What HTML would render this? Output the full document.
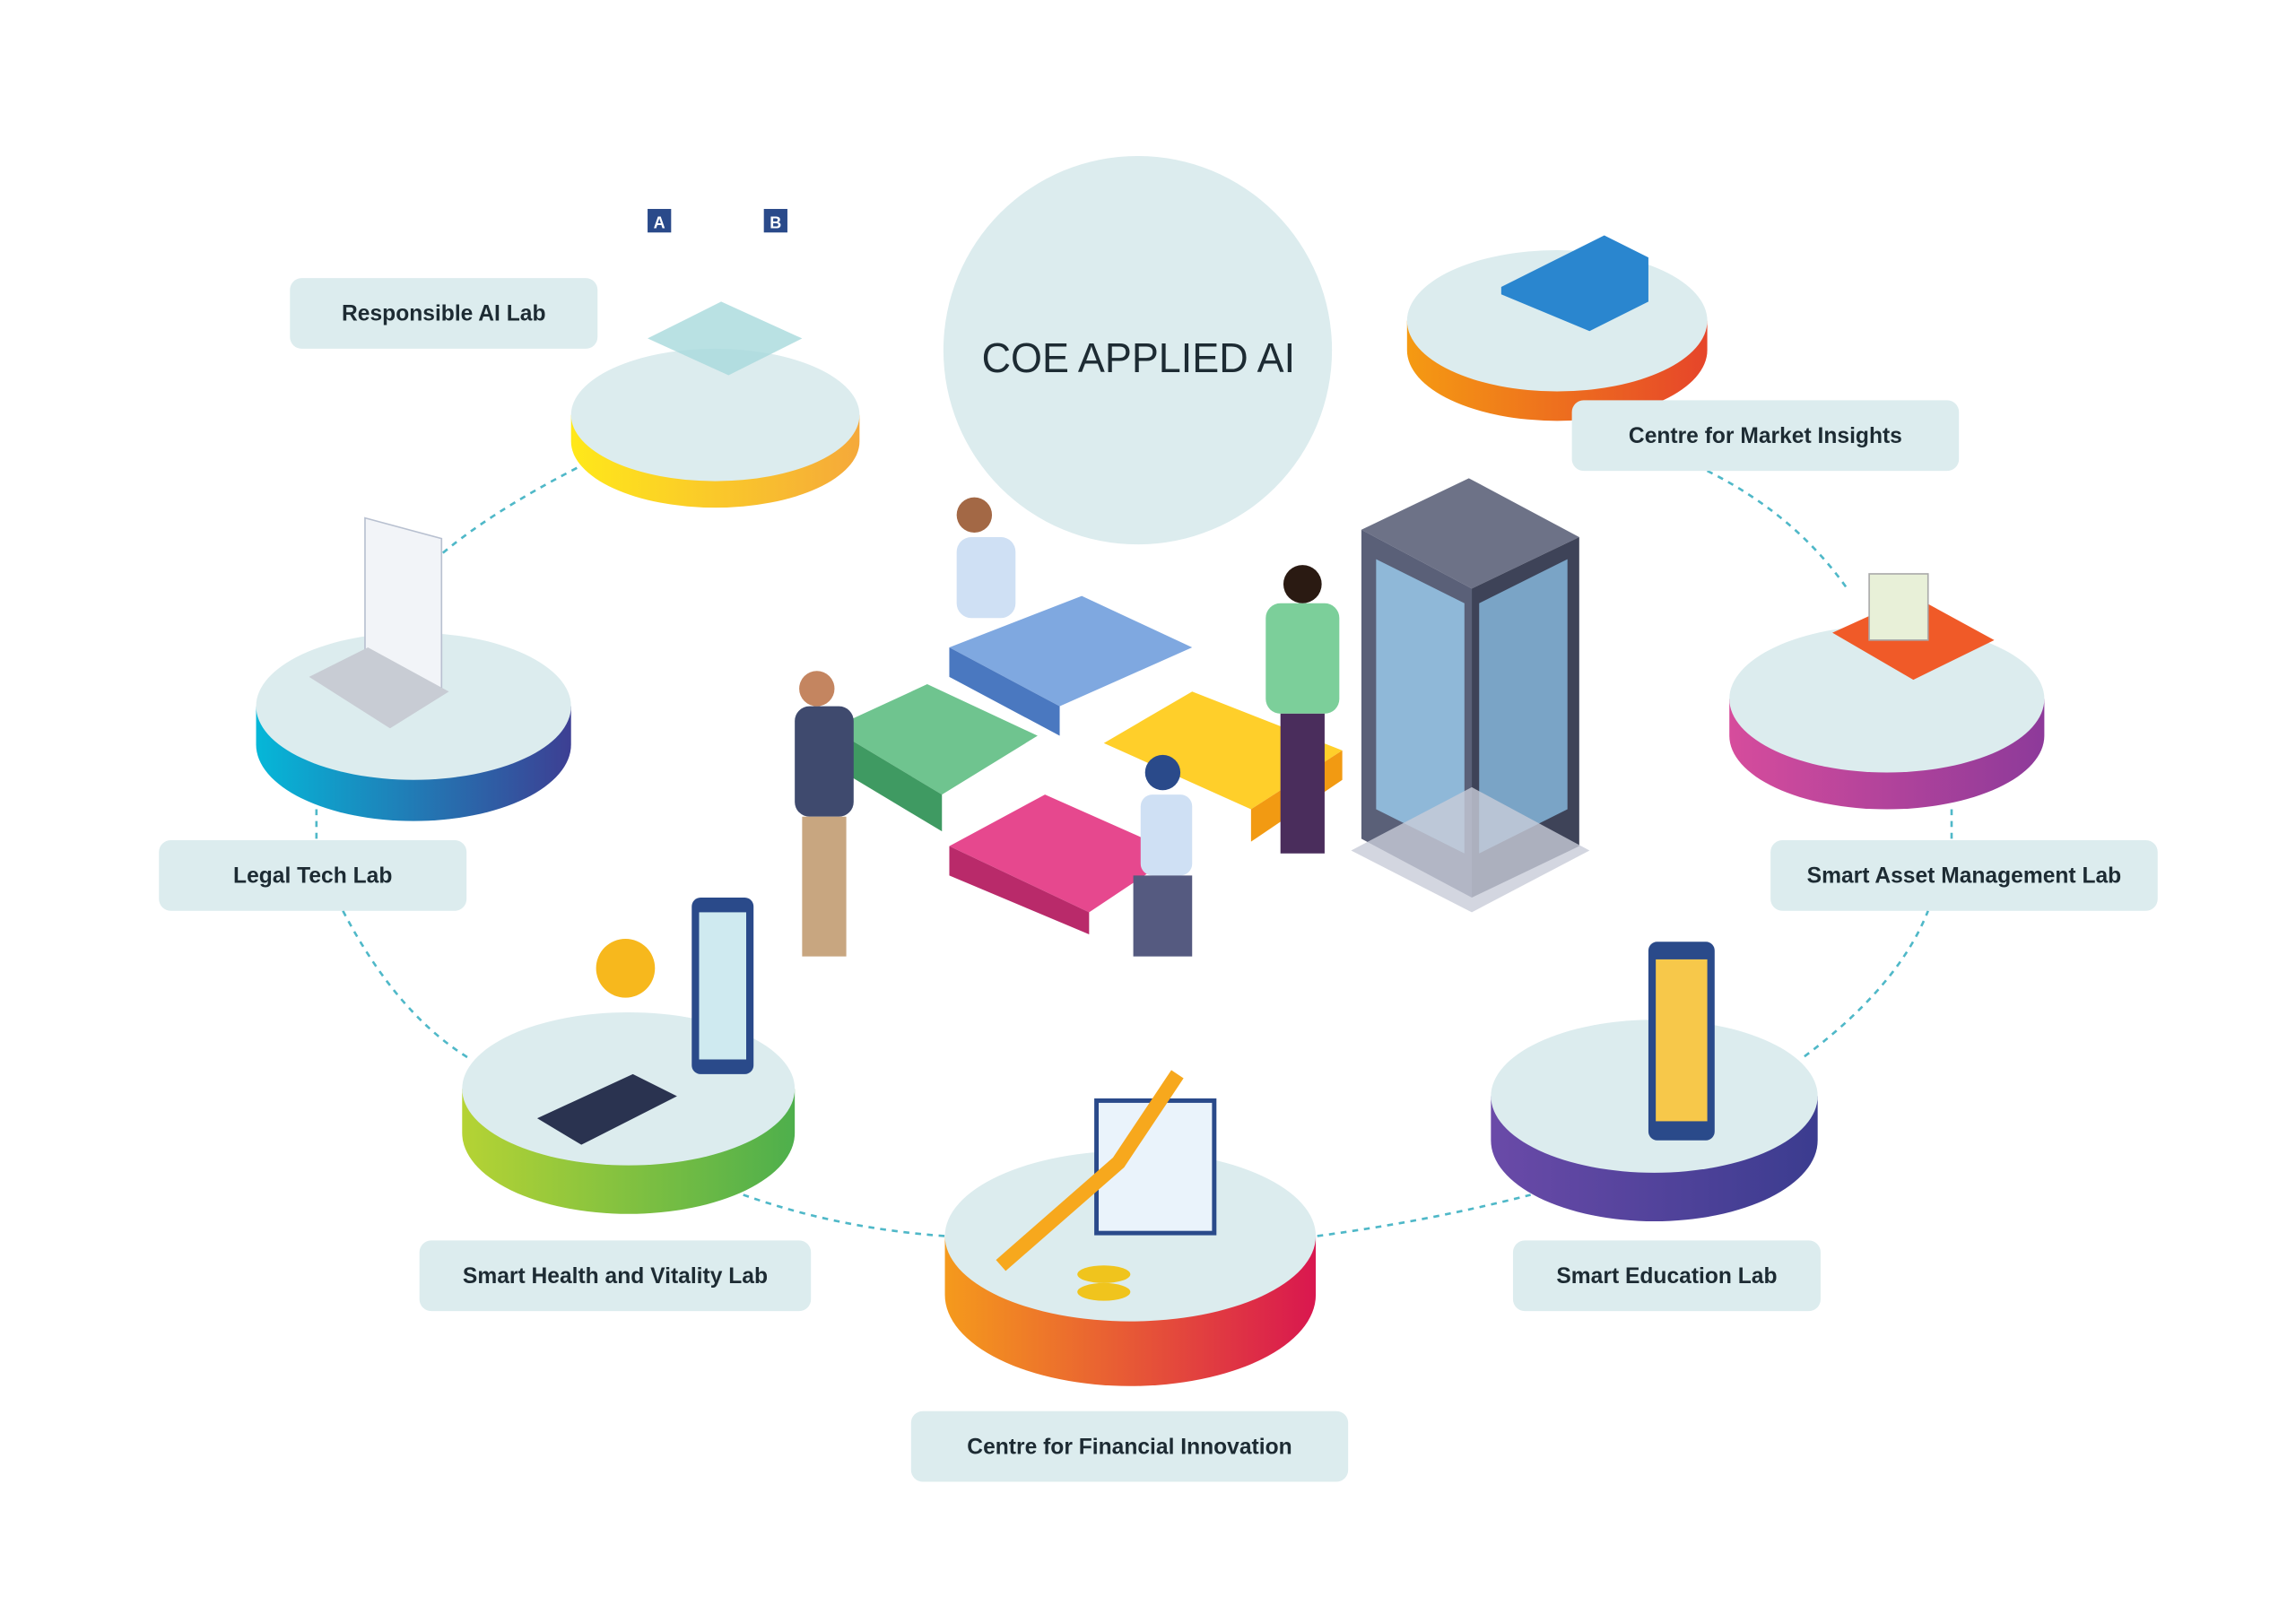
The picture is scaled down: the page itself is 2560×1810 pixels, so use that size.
<!DOCTYPE html>
<html><head><meta charset="utf-8"><style>
html,body{margin:0;padding:0;background:#fff;}
svg{display:block;}
text{font-family:"Liberation Sans",sans-serif;}
</style></head><body>
<svg width="2560" height="1810" viewBox="0 0 1560 1103" preserveAspectRatio="none" xmlns="http://www.w3.org/2000/svg">
<defs>
<linearGradient id="gY" x1="0" x2="1"><stop offset="0" stop-color="#ffe81a"/><stop offset="1" stop-color="#f5a93a"/></linearGradient>
<linearGradient id="gO" x1="0" x2="1"><stop offset="0" stop-color="#f59a12"/><stop offset="1" stop-color="#e6452a"/></linearGradient>
<linearGradient id="gB" x1="0" x2="1"><stop offset="0" stop-color="#05b7d8"/><stop offset="1" stop-color="#3d3f93"/></linearGradient>
<linearGradient id="gP" x1="0" x2="1"><stop offset="0" stop-color="#d64c9c"/><stop offset="1" stop-color="#8d3a9a"/></linearGradient>
<linearGradient id="gG" x1="0" x2="1"><stop offset="0" stop-color="#b5d334"/><stop offset="1" stop-color="#4eaf4c"/></linearGradient>
<linearGradient id="gV" x1="0" x2="1"><stop offset="0" stop-color="#6a4aa8"/><stop offset="1" stop-color="#3b3c8f"/></linearGradient>
<linearGradient id="gF" x1="0" x2="1"><stop offset="0" stop-color="#f59a1c"/><stop offset="1" stop-color="#d9174f"/></linearGradient>
</defs>
<g fill="none" stroke="#4fb8c8" stroke-width="1.6" stroke-dasharray="4,4">
<path d="M392 318 Q330 350 296 380"/>
<path d="M215 550 L215 570"/>
<path d="M233 619 Q270 690 320 720"/>
<path d="M505 812 Q570 835 642 840"/>
<path d="M895 840 Q970 830 1040 812"/>
<path d="M1226 718 Q1290 670 1310 619"/>
<path d="M1326 550 L1326 571"/>
<path d="M1160 320 Q1220 350 1255 400"/>
</g>
<g>
<path d="M388 282 L388 300 A98 45 0 0 0 584 300 L584 282 Z" fill="url(#gY)"/><ellipse cx="486" cy="282" rx="98" ry="45" fill="#dcecee"/>
<path d="M956 218 L956 238 A102 48 0 0 0 1160 238 L1160 218 Z" fill="url(#gO)"/><ellipse cx="1058" cy="218" rx="102" ry="48" fill="#dcecee"/>
<path d="M174 480 L174 506 A107 52 0 0 0 388 506 L388 480 Z" fill="url(#gB)"/><ellipse cx="281" cy="480" rx="107" ry="50" fill="#dcecee"/>
<path d="M1175 475 L1175 500 A107 50 0 0 0 1389 500 L1389 475 Z" fill="url(#gP)"/><ellipse cx="1282" cy="475" rx="107" ry="50" fill="#dcecee"/>
<path d="M314 740 L314 770 A113 55 0 0 0 540 770 L540 740 Z" fill="url(#gG)"/><ellipse cx="427" cy="740" rx="113" ry="52" fill="#dcecee"/>
<path d="M1013 745 L1013 775 A111 55 0 0 0 1235 775 L1235 745 Z" fill="url(#gV)"/><ellipse cx="1124" cy="745" rx="111" ry="52" fill="#dcecee"/>
<path d="M642 840 L642 880 A126 62 0 0 0 894 880 L894 840 Z" fill="url(#gF)"/><ellipse cx="768" cy="840" rx="126" ry="58" fill="#dcecee"/>
</g>
<circle cx="773" cy="238" r="132" fill="#dcecee"/>
<text x="667" y="253" font-size="28" textLength="213" lengthAdjust="spacingAndGlyphs" fill="#1d2b33">COE APPLIED AI</text>
<polygon points="645,440 735,405 810,440 720,480" fill="#7fa8e0"/>
<polygon points="645,440 720,480 720,500 645,460" fill="#4a78c0"/>
<polygon points="565,495 630,465 705,500 640,540" fill="#6fc48f"/>
<polygon points="565,495 640,540 640,565 565,520" fill="#3f9a62"/>
<polygon points="750,505 810,470 912,510 850,550" fill="#ffcf2a"/>
<polygon points="850,550 912,510 912,530 850,572" fill="#f29a12"/>
<polygon points="645,575 710,540 800,580 740,620" fill="#e6488e"/>
<polygon points="645,575 740,620 740,635 645,595" fill="#b92a6a"/>
<polygon points="925,360 998,325 1073,365 1000,400" fill="#6d7287"/>
<polygon points="925,360 1000,400 1000,610 925,570" fill="#5a6078"/>
<polygon points="1000,400 1073,365 1073,575 1000,610" fill="#3e4358"/>
<polygon points="935,380 995,410 995,580 935,550" fill="#8fb8d8"/>
<polygon points="1005,410 1065,380 1065,550 1005,580" fill="#7aa4c6"/>
<polygon points="918,578 1000,620 1080,578 1000,535" fill="#c8ccd8" opacity=".8"/>
<g fill="#3f4a6e">
<rect x="540" y="480" width="40" height="75" rx="10"/><rect x="545" y="555" width="30" height="95" fill="#c8a680"/><circle cx="555" cy="468" r="12" fill="#c48560"/>
<rect x="860" y="410" width="50" height="75" rx="10" fill="#7ccf9a"/><rect x="870" y="485" width="30" height="95" fill="#4a2d5c"/><circle cx="885" cy="397" r="13" fill="#2a1a12"/>
<rect x="650" y="365" width="40" height="55" rx="10" fill="#cfe0f4"/><circle cx="662" cy="350" r="12" fill="#a36845"/>
<rect x="775" y="540" width="35" height="55" rx="8" fill="#cfe0f4"/><rect x="770" y="595" width="40" height="55" fill="#555a80"/><circle cx="790" cy="525" r="12" fill="#2a4a8a"/>
</g>
<g>
<rect x="440" y="142" width="16" height="16" fill="#2a4a8a"/><text x="448" y="155" font-size="11" fill="#fff" text-anchor="middle" font-weight="bold">A</text>
<rect x="519" y="142" width="16" height="16" fill="#2a4a8a"/><text x="527" y="155" font-size="11" fill="#fff" text-anchor="middle" font-weight="bold">B</text>
<polygon points="440,230 490,205 545,230 495,255" fill="#a8dadc" opacity=".8"/>
<polygon points="248,352 300,366 300,470 248,455" fill="#f2f4f8" stroke="#b8c0d0"/>
<polygon points="210,460 250,440 305,470 265,495" fill="#c8ccd4"/>
<polygon points="1020,195 1090,160 1120,175 1120,205 1080,225 1020,200" fill="#2a86cf"/>
<polygon points="1245,430 1300,405 1355,435 1300,462" fill="#f05a28"/>
<rect x="1270" y="390" width="40" height="45" fill="#e8f0d8" stroke="#aaa"/>
<rect x="470" y="610" width="42" height="120" rx="6" fill="#2a4a8a"/><rect x="475" y="620" width="32" height="100" fill="#cfeaf0"/>
<circle cx="425" cy="658" r="20" fill="#f7b81d"/>
<polygon points="365,760 430,730 460,745 395,778" fill="#2a3350"/>
<rect x="1120" y="640" width="45" height="135" rx="6" fill="#2a4a8a"/><rect x="1125" y="652" width="35" height="110" fill="#f7c84a"/>
<rect x="745" y="748" width="80" height="90" fill="#eaf3fb" stroke="#2a4a8a" stroke-width="3"/>
<polyline points="680,860 760,790 800,730" fill="none" stroke="#f7a81d" stroke-width="10"/>
<ellipse cx="750" cy="878" rx="18" ry="6" fill="#f0c41d"/><ellipse cx="750" cy="866" rx="18" ry="6" fill="#f0c41d"/>
</g>
<g fill="#dcecee">
<rect x="197" y="189" width="209" height="48" rx="8"/>
<rect x="1068" y="272" width="263" height="48" rx="8"/>
<rect x="108" y="571" width="209" height="48" rx="8"/>
<rect x="1203" y="571" width="263" height="48" rx="8"/>
<rect x="285" y="843" width="266" height="48" rx="8"/>
<rect x="1028" y="843" width="209" height="48" rx="8"/>
<rect x="619" y="959" width="297" height="48" rx="8"/>
</g>
<g font-size="15" font-weight="bold" fill="#1d2b33" text-anchor="middle">
<text x="301.5" y="218">Responsible AI Lab</text>
<text x="1199.5" y="301">Centre for Market Insights</text>
<text x="212.5" y="600">Legal Tech Lab</text>
<text x="1334.5" y="600">Smart Asset Management Lab</text>
<text x="418" y="872">Smart Health and Vitality Lab</text>
<text x="1132.5" y="872">Smart Education Lab</text>
<text x="767.5" y="988">Centre for Financial Innovation</text>
</g>
</svg>
</body></html>
